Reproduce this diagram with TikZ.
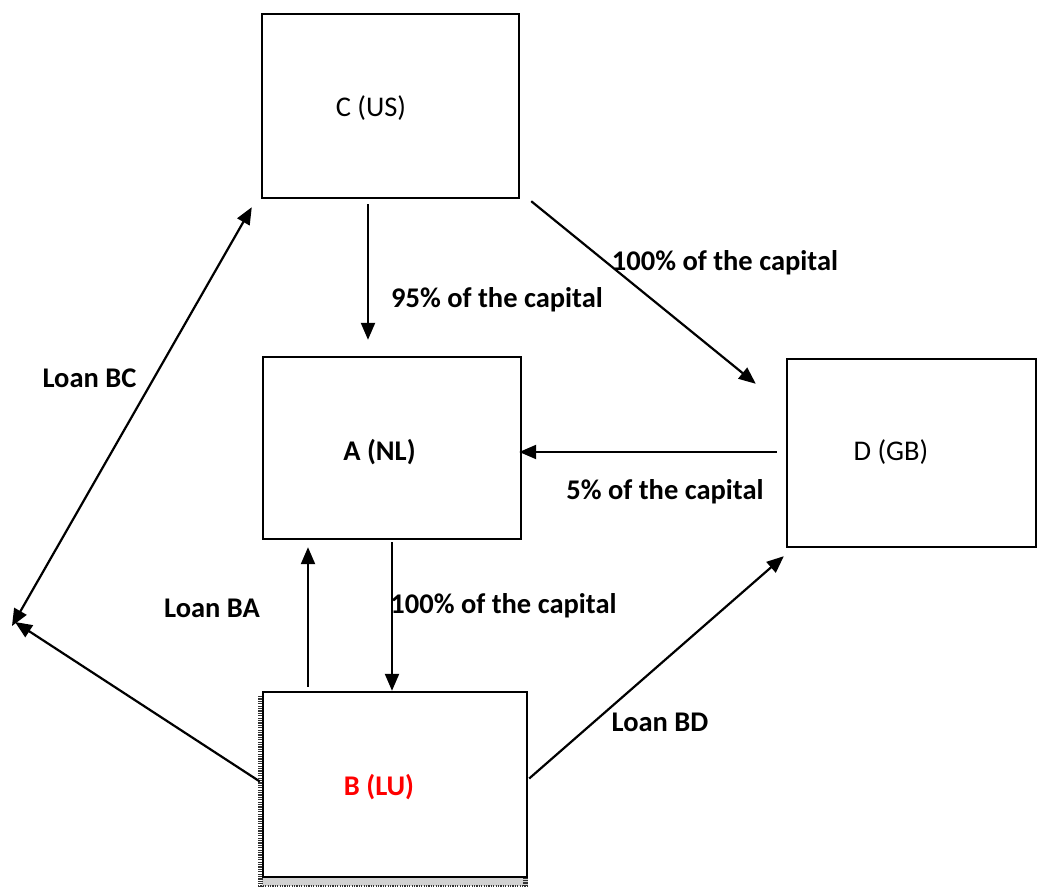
\documentclass[tikz,border=0pt]{standalone}
\usepackage{fontspec}
\setmainfont{Carlito}
\usetikzlibrary{arrows.meta,calc}
\begin{document}
\begin{tikzpicture}[x=1pt,y=-1pt,
  box/.style={draw=black,line width=2.4pt,rectangle,minimum width=#1,inner sep=0pt},
  arr/.style={line width=2.2pt,-{Triangle[length=17pt,width=14pt]}},
  dblarr/.style={line width=2.2pt,{Triangle[length=17pt,width=14pt]}-{Triangle[length=17pt,width=14pt]}},
  lbl/.style={font=\fontsize{28.5}{32}\selectfont\bfseries,inner sep=0pt},
  txt/.style={font=\fontsize{28.5}{32}\selectfont,inner sep=0pt}]
\useasboundingbox (0,0) rectangle (1037,890);
% hatched shadow of B
\fill[gray!35] (262,877) rectangle (528,886);
\draw[line width=5pt,dash pattern=on 1.2pt off 1.2pt,black!80] (260,696) -- (260,886);
\draw[line width=5pt,dash pattern=on 1.2pt off 1.2pt,black!80] (525,700) -- (525,886);
\draw[line width=1.5pt,dash pattern=on 1.2pt off 1.2pt,black!80] (258,886) -- (529,886);
% boxes
\node[box=257pt,minimum height=184pt,fill=white] (C) at (390.5,106) {};
\node[box=258pt,minimum height=182pt] (A) at (392,448) {};
\node[box=249pt,minimum height=188pt] (D) at (911.5,453) {};
\node[box=264pt,minimum height=185pt,fill=white] (B) at (395,784.5) {};
% box texts
\node[txt] (Ct) at (371,108) {C (US)};
\node[lbl] (At) at (379.5,452) {A (NL)};
\node[txt] (Dt) at (891,452) {D (GB)};
\node[lbl,text=red] (Bt) at (379,787) {B (LU)};
% connectors
\draw[arr] ($(C.south)+(-22.5,5)$) -- ($(A.north)+(-24,-16)$);
\draw[arr] ($(C.south east)+(11,2)$) -- ($(D.north west)+(-30,26)$);
\draw[arr] ($(D.west)+(-9,-1)$) -- ($(A.east)+(-3,4)$);
\draw[arr] ($(A.south)+(0,2)$) -- ($(B.north)+(-3,0)$);
\draw[arr] ($(B.north)+(-87,-4)$) -- ($(A.south)+(-84,7)$);
\coordinate (L) at (12,626);
\coordinate (L2) at (15,622);
\draw[dblarr] ($(C.south west)+(-9,8)$) -- (L);
\draw[arr] ($(B.west)+(-2,-3)$) -- (L2);
\draw[arr] ($(B.east)+(1,-6)$) -- ($(D.south west)+(-2,8)$);
% labels
\node[lbl] (l1) at (725,263) {100\% of the capital};
\node[lbl] (l2) at (497,300) {95\% of the capital};
\node[lbl] (l3) at (89.5,378) {Loan BC};
\node[lbl] (l4) at (665,492) {5\% of the capital};
\node[lbl] (l5) at (212,608) {Loan BA};
\node[lbl] (l6) at (503.5,606) {100\% of the capital};
\node[lbl] (l7) at (660,722) {Loan BD};
\end{tikzpicture}
\end{document}
